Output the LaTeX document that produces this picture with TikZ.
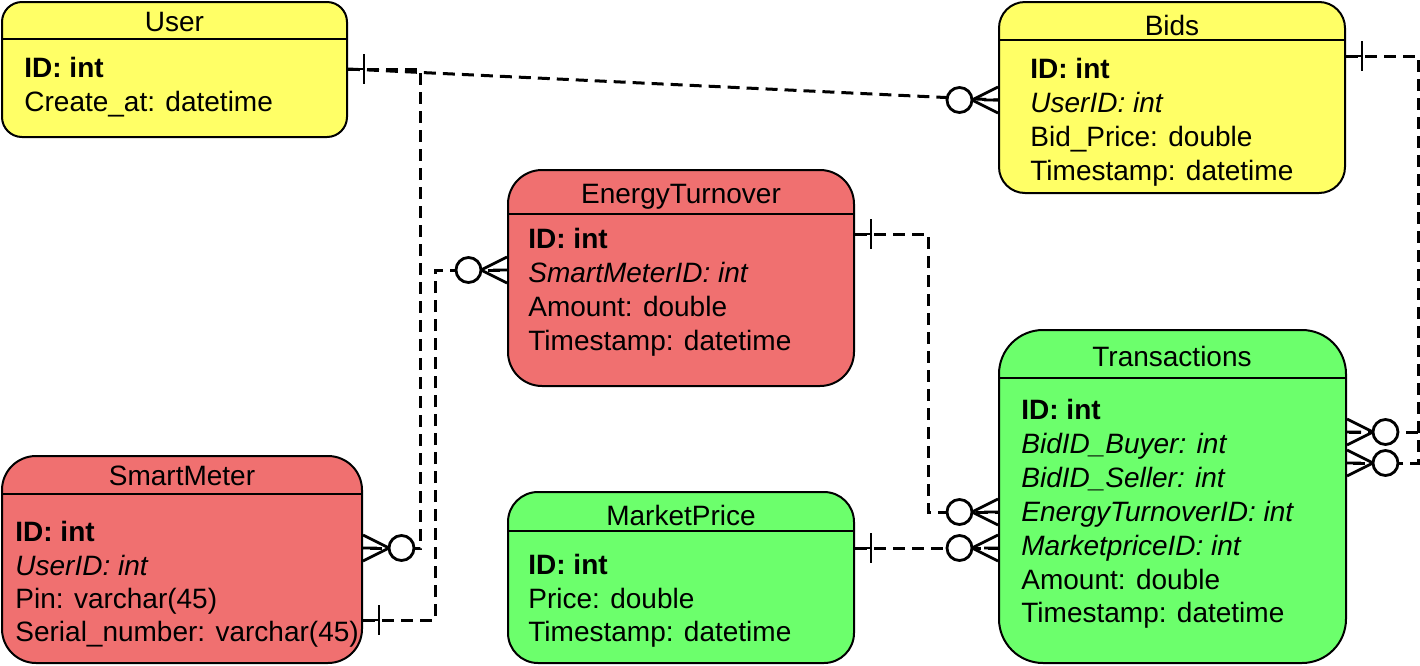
\documentclass[tikz,border=0pt]{standalone}
\usepackage{fontspec}
\setmainfont{Liberation Sans}
\usetikzlibrary{fit,calc}
\definecolor{ey}{RGB}{255,255,102}
\definecolor{er}{RGB}{240,112,112}
\definecolor{eg}{RGB}{108,255,108}
\begin{document}
\begin{tikzpicture}[x=0.5pt,y=-0.5pt,
 ent/.style={draw=black, line width=1pt, inner sep=0pt},
 hdr/.style={line width=1pt},
 ttl/.style={anchor=base, font=\fontsize{14}{17}\selectfont, inner sep=0pt},
 row/.style={anchor=base west, font=\fontsize{14}{17}\selectfont, inner sep=0pt},
 conn/.style={line width=1.5pt, dash pattern=on 6pt off 3.5pt},
 one/.pic={\draw[line width=1.4pt] (0,0) -- (16,0) (16,-15) -- (16,15);},
 zm/.pic={\draw[line width=1.4pt] (0,-13) -- (-26,0) -- (0,13) (0,0) -- (-14,0);
          \draw[line width=1.4pt, fill=white] (-38.5,0) circle[radius=6.25pt];}
]
\useasboundingbox (0,0) rectangle (1420,665);

% ---------- User ----------
\node[ent, fill=ey, rounded corners=10pt, fit={(2,2) (347,137)}] (user) {};
\draw[hdr] (user.west |- 0,39) -- (user.east |- 0,39);
\node[ttl] (user-t) at (174.5,31) {User};
\node[row] (user-r1) at (24,77) {\textbf{ID: int}};
\node[row] (user-r2) at (24,111) {Create\_at: datetime};

% ---------- Bids ----------
\node[ent, fill=ey, rounded corners=13pt, fit={(999,2) (1345,193)}] (bids) {};
\draw[hdr] (bids.west |- 0,40) -- (bids.east |- 0,40);
\node[ttl] (bids-t) at (1172,35) {Bids};
\node[row] (bids-r1) at (1030,78) {\textbf{ID: int}};
\node[row] (bids-r2) at (1030,112) {\textit{UserID: int}};
\node[row] (bids-r3) at (1030,146) {Bid\_Price: double};
\node[row] (bids-r4) at (1030,180) {Timestamp: datetime};

% ---------- EnergyTurnover ----------
\node[ent, fill=er, rounded corners=17pt, fit={(508,170) (854,386)}] (et) {};
\draw[hdr] (et.west |- 0,214) -- (et.east |- 0,214);
\node[ttl] (et-t) at (681,203) {EnergyTurnover};
\node[row] (et-r1) at (528,248) {\textbf{ID: int}};
\node[row] (et-r2) at (528,282) {\textit{SmartMeterID: int}};
\node[row] (et-r3) at (528,316) {Amount: double};
\node[row] (et-r4) at (528,350) {Timestamp: datetime};

% ---------- SmartMeter ----------
\node[ent, fill=er, rounded corners=17pt, fit={(2,456) (362,663)}] (sm) {};
\draw[hdr] (sm.west |- 0,494) -- (sm.east |- 0,494);
\node[ttl] (sm-t) at (182,485) {SmartMeter};
\node[row] (sm-r1) at (15,541) {\textbf{ID: int}};
\node[row] (sm-r2) at (15,575) {\textit{UserID: int}};
\node[row] (sm-r3) at (15,608) {Pin: varchar(45)};
\node[row] (sm-r4) at (15,641) {Serial\_number: varchar(45)};

% ---------- MarketPrice ----------
\node[ent, fill=eg, rounded corners=15pt, fit={(508,492) (854,663)}] (mp) {};
\draw[hdr] (mp.west |- 0,531) -- (mp.east |- 0,531);
\node[ttl] (mp-t) at (681,525) {MarketPrice};
\node[row] (mp-r1) at (528,574) {\textbf{ID: int}};
\node[row] (mp-r2) at (528,608) {Price: double};
\node[row] (mp-r3) at (528,641) {Timestamp: datetime};

% ---------- Transactions ----------
\node[ent, fill=eg, rounded corners=22pt, fit={(999,330) (1346,663)}] (tr) {};
\draw[hdr] (tr.west |- 0,378) -- (tr.east |- 0,378);
\node[ttl] (tr-t) at (1172,366) {Transactions};
\node[row] (tr-r1) at (1021,419) {\textbf{ID: int}};
\node[row] (tr-r2) at (1021,453) {\textit{BidID\_Buyer: int}};
\node[row] (tr-r3) at (1021,487) {\textit{BidID\_Seller: int}};
\node[row] (tr-r4) at (1021,521) {\textit{EnergyTurnoverID: int}};
\node[row] (tr-r5) at (1021,555) {\textit{MarketpriceID: int}};
\node[row] (tr-r6) at (1021,589) {Amount: double};
\node[row] (tr-r7) at (1021,622) {Timestamp: datetime};

% ---------- connection points ----------
\coordinate (uR) at (user.east |- 0,69);
\coordinate (bL) at (bids.west |- 0,100);
\coordinate (bR) at (bids.east |- 0,56);
\coordinate (smR1) at (sm.east |- 0,548);
\coordinate (smR2) at (sm.east |- 0,620);
\coordinate (etL) at (et.west |- 0,270);
\coordinate (etR) at (et.east |- 0,234);
\coordinate (mpR) at (mp.east |- 0,548);
\coordinate (trL1) at (tr.west |- 0,512);
\coordinate (trL2) at (tr.west |- 0,548);
\coordinate (trR1) at (tr.east |- 0,432);
\coordinate (trR2) at (tr.east |- 0,463);
\coordinate (j1) at (420,548);
\coordinate (j2) at (435,270);
\coordinate (j3) at (928,512);
\coordinate (j4) at (1418,463);
\coordinate (j5) at (1418,432);

% ---------- connectors ----------
\draw[conn] (uR) -- (bL);
\draw[conn] (uR) -| (j1) -- (smR1);
\draw[conn] (smR2) -| (j2) -- (etL);
\draw[conn] (etR) -| (j3) -- (trL1);
\draw[conn] (mpR) -- (trL2);
\draw[conn] (bR) -| (j4) -- (trR2);
\draw[conn] (j5) -- (trR1);

% ---------- cardinality marks ----------
\pic at (uR) {one};
\pic at (smR2) {one};
\pic at (etR) {one};
\pic at (mpR) {one};
\pic at (bR) {one};
\pic at (bL) {zm};
\pic at (etL) {zm};
\pic at (trL1) {zm};
\pic at (trL2) {zm};
\pic[rotate=180] at (smR1) {zm};
\pic[rotate=180] at (trR1) {zm};
\pic[rotate=180] at (trR2) {zm};
\end{tikzpicture}
\end{document}
